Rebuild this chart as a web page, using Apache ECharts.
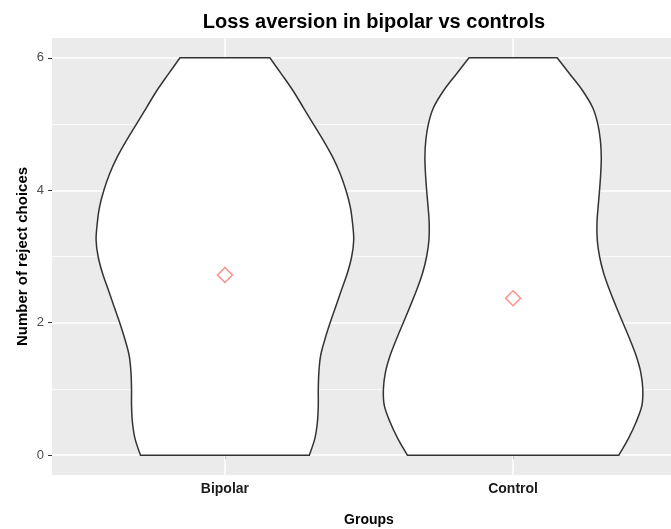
<!DOCTYPE html>
<html>
<head>
<meta charset="utf-8">
<script src="https://cdn.jsdelivr.net/npm/echarts@6/dist/echarts.min.js"></script>
<style>
html,body{margin:0;padding:0;background:#fff}
#chart{width:671px;height:529px}
</style>
</head>
<body>
<div id="chart"></div>
<script>
const groups = ['Bipolar', 'Control'];
// y levels where the violin half-widths were read (in x-axis units)
const levels = [0, 0.25, 0.5, 0.75, 1, 1.25, 1.5, 1.75, 2, 2.25, 2.5, 2.75, 3,
                3.25, 3.5, 3.75, 4, 4.25, 4.5, 4.75, 5, 5.25, 5.5, 5.75, 6];
const bipolarWidth = [0.293, 0.312, 0.321, 0.324, 0.324, 0.326, 0.332, 0.347, 0.365,
                      0.385, 0.405, 0.425, 0.44, 0.447, 0.443, 0.435, 0.42, 0.4,
                      0.374, 0.342, 0.307, 0.272, 0.237, 0.197, 0.156];
const controlWidth = [0.367, 0.40, 0.427, 0.447, 0.45, 0.443, 0.427, 0.405, 0.381,
                      0.357, 0.334, 0.314, 0.30, 0.292, 0.291, 0.295, 0.30, 0.304,
                      0.306, 0.303, 0.294, 0.276, 0.242, 0.198, 0.153];
const groupMeans = [2.72, 2.37];
const yTicks = [0, 2, 4, 6];
const yMinor = [1, 3, 5];
const xTicks = [1, 2];

const widths = [bipolarWidth, controlWidth];
const FONT = 'Liberation Sans, Arial, sans-serif';

// smooth curve through the points (catmull-rom as cubic beziers)
function sidePath(pts) {
  let d = '';
  for (let i = 0; i < pts.length - 1; i++) {
    const p0 = pts[i - 1] || pts[i], p1 = pts[i], p2 = pts[i + 1], p3 = pts[i + 2] || pts[i + 1];
    const c1 = [p1[0] + (p2[0] - p0[0]) / 6, p1[1] + (p2[1] - p0[1]) / 6];
    const c2 = [p2[0] - (p3[0] - p1[0]) / 6, p2[1] - (p3[1] - p1[1]) / 6];
    d += ' C' + c1[0] + ',' + c1[1] + ' ' + c2[0] + ',' + c2[1] + ' ' + p2[0] + ',' + p2[1];
  }
  return d;
}

function renderViolin(params, api) {
  const g = params.dataIndex;
  const cx = api.value(0);
  const w = widths[g];
  const left = levels.map((y, i) => api.coord([cx - w[i], y]));
  const right = levels.map((y, i) => api.coord([cx + w[i], y])).reverse();
  const d = 'M' + left[0][0] + ',' + left[0][1] + sidePath(left) +
            ' L' + right[0][0] + ',' + right[0][1] + sidePath(right) + ' Z';
  return {
    type: 'path',
    shape: { pathData: d },
    style: { fill: '#fff', stroke: '#333', lineWidth: 1.5, lineJoin: 'miter' }
  };
}

const gridLines = []
  .concat(yTicks.map(v => ({ yAxis: v, lineStyle: { width: 1.5 } })))
  .concat(yMinor.map(v => ({ yAxis: v, lineStyle: { width: 0.7 } })))
  .concat(xTicks.map(v => ({ xAxis: v, lineStyle: { width: 1.5 } })));

const option = {
  animation: false,
  title: {
    text: 'Loss aversion in bipolar vs controls',
    left: 369,
    top: 7,
    textAlign: 'center',
    textStyle: { fontFamily: FONT, fontSize: 20, fontWeight: 'bold', color: '#000' }
  },
  grid: {
    left: 52, right: -15, top: 38, bottom: 54,
    show: true, backgroundColor: '#EBEBEB', borderWidth: 0,
    outerBoundsMode: 'none'
  },
  xAxis: {
    type: 'value',
    min: 0.4, max: 2.6,
    axisLine: { show: false },
    axisTick: { show: true, customValues: xTicks, length: 4, lineStyle: { color: '#333' } },
    axisLabel: {
      customValues: xTicks,
      formatter: v => groups[Math.round(v) - 1],
      fontFamily: FONT, fontSize: 14, fontWeight: 'bold', color: '#1a1a1a', margin: 7
    },
    splitLine: { show: false },
    name: 'Groups',
    nameLocation: 'middle',
    nameGap: 38,
    nameMoveOverlap: false,
    nameTextStyle: { fontFamily: FONT, fontSize: 14, fontWeight: 'bold', color: '#000' }
  },
  yAxis: {
    type: 'value',
    min: -0.3, max: 6.3,
    axisLine: { show: false },
    axisTick: { show: true, customValues: yTicks, length: 4, lineStyle: { color: '#333' } },
    axisLabel: {
      customValues: yTicks,
      fontFamily: FONT, fontSize: 13, color: '#4D4D4D', margin: 8
    },
    splitLine: { show: false },
    name: 'Number of reject choices',
    nameLocation: 'middle',
    nameGap: 22,
    nameMoveOverlap: false,
    nameTextStyle: { fontFamily: FONT, fontSize: 15, fontWeight: 'bold', color: '#000' }
  },
  series: [
    {
      type: 'custom',
      z: 2,
      renderItem: renderViolin,
      data: groups.map((g, i) => [i + 1]),
      silent: true,
      clip: false
    },
    {
      type: 'scatter',
      z: 3,
      symbol: 'diamond',
      symbolSize: 15,
      itemStyle: { color: 'rgba(0,0,0,0)', borderColor: '#F8766D', borderWidth: 1.5 },
      data: groupMeans.map((m, i) => [i + 1, m]),
      markLine: {
        z: 1,
        silent: true,
        symbol: ['none', 'none'],
        label: { show: false },
        lineStyle: { color: '#fff', type: 'solid' },
        data: gridLines
      }
    }
  ]
};

const myChart = echarts.init(document.getElementById('chart'));
myChart.setOption(option);
</script>
</body>
</html>
